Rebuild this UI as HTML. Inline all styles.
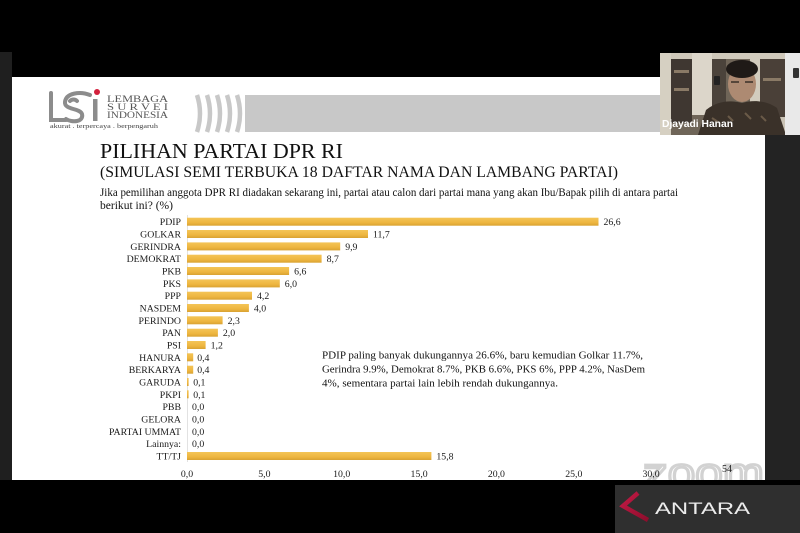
<!DOCTYPE html>
<html>
<head>
<meta charset="utf-8">
<style>
html,body{margin:0;padding:0;background:#000;}
body{width:800px;height:533px;overflow:hidden;position:relative;}
svg{display:block;}
</style>
</head>
<body>
<svg width="800" height="533" viewBox="0 0 800 533" xmlns="http://www.w3.org/2000/svg">
  <defs>
    <linearGradient id="bar" x1="0" y1="0" x2="0" y2="1">
      <stop offset="0" stop-color="#F4C457"/>
      <stop offset="0.6" stop-color="#EEB640"/>
      <stop offset="1" stop-color="#D9A232"/>
    </linearGradient>
    <linearGradient id="ant" x1="0" y1="0" x2="1" y2="1">
      <stop offset="0" stop-color="#c21a45"/>
      <stop offset="1" stop-color="#8e0d2c"/>
    </linearGradient>
    <clipPath id="slideclip"><rect x="12" y="77" width="753" height="403"/></clipPath>
  </defs>

  <!-- background -->
  <rect x="0" y="0" width="800" height="533" fill="#000"/>
  <rect x="0" y="52" width="12" height="428" fill="#1f1f1f"/>
  <!-- slide -->
  <rect x="12" y="77" width="753" height="403" fill="#fff"/>
  <rect x="765" y="135" width="35" height="345" fill="#232323"/>

  <!-- logo -->
  <g fill="none" stroke="#8c8c8c" stroke-width="4" stroke-linecap="round">
    <path d="M51,93 V120 H66"/>
    <path d="M90,95 C80,91 66,93 65,102 C64,110 80,108 82,114 C84,122 72,123 66,119"/>
    <path d="M70,101 C72,99 75,99 77,101"/>
  </g>
  <rect x="93" y="99" width="4.5" height="22" fill="#8c8c8c"/>
  <circle cx="97" cy="92" r="3" fill="#d3203c"/>
  <g font-family="Liberation Serif, serif" fill="#555">
    <text x="107" y="102" font-size="9.5" textLength="61" lengthAdjust="spacingAndGlyphs">LEMBAGA</text>
    <text x="107" y="110" font-size="9.5" textLength="61" lengthAdjust="spacingAndGlyphs">S U R V E I</text>
    <text x="107" y="118" font-size="9.5" textLength="61" lengthAdjust="spacingAndGlyphs">INDONESIA</text>
    <text x="50" y="128" font-size="6" fill="#444" textLength="108" lengthAdjust="spacingAndGlyphs">akurat . terpercaya . berpengaruh</text>
  </g>

  <!-- banner -->
  <rect x="245" y="95" width="415" height="37" fill="#c8c8c8"/>
  <g fill="none" stroke="#c8c8c8" stroke-width="4.5">
    <path d="M197,95 Q203,113.5 197,132"/>
    <path d="M207,95 Q213,113.5 207,132"/>
    <path d="M217,95 Q223,113.5 217,132"/>
    <path d="M227,95 Q233,113.5 227,132"/>
    <path d="M237,95 Q243,113.5 237,132"/>
  </g>

  <!-- titles -->
  <g font-family="Liberation Serif, serif" fill="#111">
    <text x="100" y="158" font-size="21.5" textLength="243" lengthAdjust="spacingAndGlyphs">PILIHAN PARTAI DPR RI</text>
    <text x="100" y="177" font-size="16" textLength="518" lengthAdjust="spacingAndGlyphs">(SIMULASI SEMI TERBUKA 18 DAFTAR NAMA DAN LAMBANG PARTAI)</text>
    <text x="100" y="196" font-size="11.5" textLength="578" lengthAdjust="spacingAndGlyphs">Jika pemilihan anggota DPR RI diadakan sekarang ini, partai atau calon dari partai mana yang akan Ibu/Bapak pilih di antara partai</text>
    <text x="100" y="209" font-size="11.5" textLength="73" lengthAdjust="spacingAndGlyphs">berikut ini?  (%)</text>
  </g>

  <!-- axis line -->
  <line x1="187.5" y1="215" x2="187.5" y2="462" stroke="#e2e2e2" stroke-width="1"/>

  <!-- bars -->
  <g fill="url(#bar)">
    <rect x="187" y="217.7" width="411.5" height="8"/>
    <rect x="187" y="230.0" width="181.0" height="8"/>
    <rect x="187" y="242.4" width="153.2" height="8"/>
    <rect x="187" y="254.7" width="134.6" height="8"/>
    <rect x="187" y="267.0" width="102.1" height="8"/>
    <rect x="187" y="279.4" width="92.8" height="8"/>
    <rect x="187" y="291.7" width="65.0" height="8"/>
    <rect x="187" y="304.0" width="61.9" height="8"/>
    <rect x="187" y="316.3" width="35.6" height="8"/>
    <rect x="187" y="328.7" width="30.9" height="8"/>
    <rect x="187" y="341.0" width="18.6" height="8"/>
    <rect x="187" y="353.3" width="6.2" height="8"/>
    <rect x="187" y="365.7" width="6.2" height="8"/>
    <rect x="187" y="378.0" width="1.6" height="8"/>
    <rect x="187" y="390.3" width="1.6" height="8"/>
    <rect x="187" y="452.0" width="244.4" height="8"/>
  </g>

  <!-- category labels -->
  <g font-family="Liberation Serif, serif" font-size="9.8" fill="#1a1a1a" text-anchor="end">
    <text x="181" y="225.2">PDIP</text>
    <text x="181" y="237.5">GOLKAR</text>
    <text x="181" y="249.9">GERINDRA</text>
    <text x="181" y="262.2">DEMOKRAT</text>
    <text x="181" y="274.5">PKB</text>
    <text x="181" y="286.9">PKS</text>
    <text x="181" y="299.2">PPP</text>
    <text x="181" y="311.5">NASDEM</text>
    <text x="181" y="323.8">PERINDO</text>
    <text x="181" y="336.2">PAN</text>
    <text x="181" y="348.5">PSI</text>
    <text x="181" y="360.8">HANURA</text>
    <text x="181" y="373.2">BERKARYA</text>
    <text x="181" y="385.5">GARUDA</text>
    <text x="181" y="397.8">PKPI</text>
    <text x="181" y="410.2">PBB</text>
    <text x="181" y="422.5">GELORA</text>
    <text x="181" y="434.8">PARTAI UMMAT</text>
    <text x="181" y="447.2">Lainnya:</text>
    <text x="181" y="459.5">TT/TJ</text>
  </g>

  <!-- value labels -->
  <g font-family="Liberation Serif, serif" font-size="9.8" fill="#1a1a1a">
    <text x="603.5" y="225.2">26,6</text>
    <text x="373" y="237.5">11,7</text>
    <text x="345.2" y="249.9">9,9</text>
    <text x="326.6" y="262.2">8,7</text>
    <text x="294.1" y="274.5">6,6</text>
    <text x="284.8" y="286.9">6,0</text>
    <text x="257" y="299.2">4,2</text>
    <text x="253.9" y="311.5">4,0</text>
    <text x="227.6" y="323.8">2,3</text>
    <text x="222.9" y="336.2">2,0</text>
    <text x="210.6" y="348.5">1,2</text>
    <text x="197.2" y="360.8">0,4</text>
    <text x="197.2" y="373.2">0,4</text>
    <text x="193.2" y="385.5">0,1</text>
    <text x="193.2" y="397.8">0,1</text>
    <text x="192" y="410.2">0,0</text>
    <text x="192" y="422.5">0,0</text>
    <text x="192" y="434.8">0,0</text>
    <text x="192" y="447.2">0,0</text>
    <text x="436.4" y="459.5">15,8</text>
  </g>

  <!-- annotation -->
  <g font-family="Liberation Serif, serif" font-size="11" fill="#111">
    <text x="322" y="358.5" textLength="321" lengthAdjust="spacingAndGlyphs">PDIP paling banyak dukungannya 26.6%, baru kemudian Golkar 11.7%,</text>
    <text x="322" y="372.5" textLength="323" lengthAdjust="spacingAndGlyphs">Gerindra 9.9%, Demokrat 8.7%, PKB 6.6%, PKS 6%, PPP 4.2%, NasDem</text>
    <text x="322" y="386.5" textLength="236" lengthAdjust="spacingAndGlyphs">4%, sementara partai lain lebih rendah dukungannya.</text>
  </g>

  <!-- zoom watermark -->
  <g clip-path="url(#slideclip)">
    <text x="643" y="487" font-family="Liberation Sans, sans-serif" font-size="42" fill="none" stroke="#d2d2d2" stroke-width="2.8" textLength="121" lengthAdjust="spacingAndGlyphs">zoom</text>
  </g>

  <!-- x axis labels -->
  <g font-family="Liberation Serif, serif" font-size="9.8" fill="#1a1a1a" text-anchor="middle">
    <text x="187" y="477">0,0</text>
    <text x="264.4" y="477">5,0</text>
    <text x="341.7" y="477">10,0</text>
    <text x="419.1" y="477">15,0</text>
    <text x="496.4" y="477">20,0</text>
    <text x="573.8" y="477">25,0</text>
    <text x="651.1" y="477">30,0</text>
  </g>
  <text x="722" y="472" font-family="Liberation Serif, serif" font-size="10" fill="#222">54</text>

  <!-- video thumbnail -->
  <rect x="660" y="53" width="125" height="82" fill="#6f6558"/>
  <rect x="660" y="53" width="125" height="6" fill="#cfc8ba"/>
  <rect x="660" y="53" width="11" height="82" fill="#d6d0c2"/>
  <rect x="671" y="59" width="21" height="64" fill="#3f3731"/>
  <rect x="674" y="70" width="15" height="3" fill="#8a7a66"/>
  <rect x="674" y="88" width="15" height="3" fill="#8a7a66"/>
  <rect x="692" y="53" width="20" height="62" fill="#dcd6ca"/>
  <rect x="712" y="59" width="14" height="50" fill="#4b433b"/>
  <rect x="714" y="76" width="6" height="9" rx="1" fill="#222"/>
  <rect x="750" y="53" width="10" height="78" fill="#d2ccbe"/>
  <rect x="760" y="59" width="25" height="58" fill="#4a4038"/>
  <rect x="763" y="78" width="18" height="3" fill="#8a7a66"/>
  <rect x="760" y="117" width="25" height="18" fill="#c9c2b4"/>
  <path d="M698,135 L706,110 C720,99 734,101 742,103 C752,100 766,100 777,108 L786,135 Z" fill="#3a3129"/>
  <path d="M712,118 l6,4 m10,-6 l5,5 m12,-8 l6,6 m10,-3 l5,5" stroke="#6a5a48" stroke-width="2" fill="none"/>
  <ellipse cx="742" cy="84" rx="14" ry="18" fill="#ad8a72"/>
  <ellipse cx="742" cy="69" rx="16" ry="9" fill="#1f1a17"/>
  <path d="M731,82 h8 m6,0 h8" stroke="#3a2f28" stroke-width="1.5"/>
  <rect x="785" y="53" width="15" height="82" fill="#e9e9e9"/>
  <rect x="793" y="68" width="6" height="10" rx="1" fill="#333"/>
  <text x="662" y="127" font-family="Liberation Sans, sans-serif" font-weight="bold" font-size="10.5" fill="#fff" textLength="71" lengthAdjust="spacingAndGlyphs">Djayadi Hanan</text>

  <!-- ANTARA -->
  <rect x="615" y="485" width="185" height="48" fill="#2f2f2f"/>
  <polyline points="638,493 623,506 648,520" fill="none" stroke="url(#ant)" stroke-width="4.5" stroke-linejoin="miter"/>
  <text x="655" y="514" font-family="Liberation Sans, sans-serif" font-size="17" fill="#ececec" textLength="95" lengthAdjust="spacingAndGlyphs">ANTARA</text>
</svg>
</body>
</html>
